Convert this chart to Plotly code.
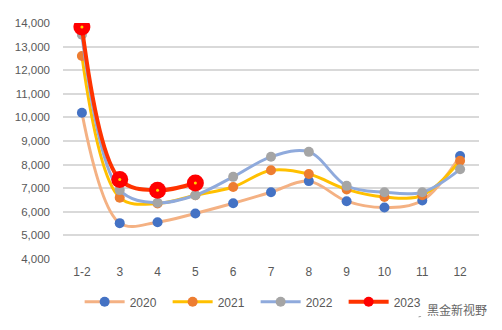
import plotly.graph_objects as go

months = ["1-2", "3", "4", "5", "6", "7", "8", "9", "10", "11", "12"]

y2020 = [10200, 5520, 5560, 5930, 6360, 6830, 7300, 6450, 6180, 6480, 8360]
y2021 = [12600, 6600, 6350, 6700, 7050, 7760, 7600, 6950, 6630, 6700, 8160]
y2022 = [13500, 6920, 6380, 6700, 7480, 8330, 8540, 7100, 6830, 6830, 7800]
y2023 = [13830, 7370, 6910, 7220]

# name, values, line colour, marker colour, marker size, line width
series = [
    ("2020", y2020, "#F4B183", "#4472C4", 10, 3),
    ("2021", y2021, "#FFC000", "#ED7D31", 10, 3),
    ("2022", y2022, "#8FAADC", "#A5A5A5", 10, 3),
    ("2023", y2023, "#FF3300", "#FF0000", 17, 4),
]

fig = go.Figure()
for name, vals, lc, mc, ms, lw in series:
    fig.add_trace(go.Scatter(
        x=months[:len(vals)], y=vals, name=name, mode="lines+markers",
        line=dict(color=lc, width=lw, shape="spline", smoothing=1),
        marker=dict(color=mc, size=ms, line=dict(width=0)),
        showlegend=False,
    ))

# small yellow centre dots on the 2023 markers
fig.add_trace(go.Scatter(
    x=months[:len(y2023)], y=y2023, mode="markers", showlegend=False,
    marker=dict(color="#FFD700", size=3, line=dict(width=0)),
    hoverinfo="skip",
))

# legend entries with uniform symbol sizes
for name, vals, lc, mc, ms, lw in series:
    fig.add_trace(go.Scatter(
        x=[None], y=[None], name=name, mode="lines+markers",
        line=dict(color=lc, width=lw),
        marker=dict(color=mc, size=10, line=dict(width=0)),
    ))

grid = "#D9D9D9"
fig.update_layout(
    width=502, height=330,
    margin=dict(l=63, r=23, t=23, b=71, autoexpand=False),
    paper_bgcolor="white", plot_bgcolor="white",
    font=dict(family="Liberation Sans, Arial, sans-serif", size=12, color="#595959"),
    xaxis=dict(
        type="category", categoryorder="array", categoryarray=months,
        range=[-0.5, 10.5], showgrid=False, zeroline=False, showline=False,
        ticks="", tickfont=dict(size=12, color="#595959"), ticklabelstandoff=4,
    ),
    yaxis=dict(
        range=[4000, 14000], dtick=1000, tickformat=",d",
        showgrid=True, gridcolor=grid, gridwidth=1.5, zeroline=False,
        showline=False, ticks="", ticklabelstandoff=12,
        tickfont=dict(size=11.5, color="#595959"),
    ),
    legend=dict(
        orientation="h", x=0.04, xanchor="left", y=-0.12, yanchor="top",
        font=dict(size=12, color="#595959"), itemsizing="trace",
        itemwidth=40, entrywidth=33, entrywidthmode="pixels", tracegroupgap=0,
    ),
    showlegend=True,
)

# account watermark beside the legend
fig.add_annotation(
    xref="paper", yref="paper", x=1.025, y=-0.215, xanchor="right", yanchor="middle",
    text="黑金新视野", showarrow=False,
    font=dict(family="Noto Sans CJK SC", size=12, color="#666666"),
)
fig.add_shape(
    type="circle", xref="paper", yref="paper",
    x0=0.843, x1=0.867, y0=-0.245, y1=-0.19,
    line=dict(color="#999999", width=1, dash="dot"),
)

fig.write_html("out.html")
